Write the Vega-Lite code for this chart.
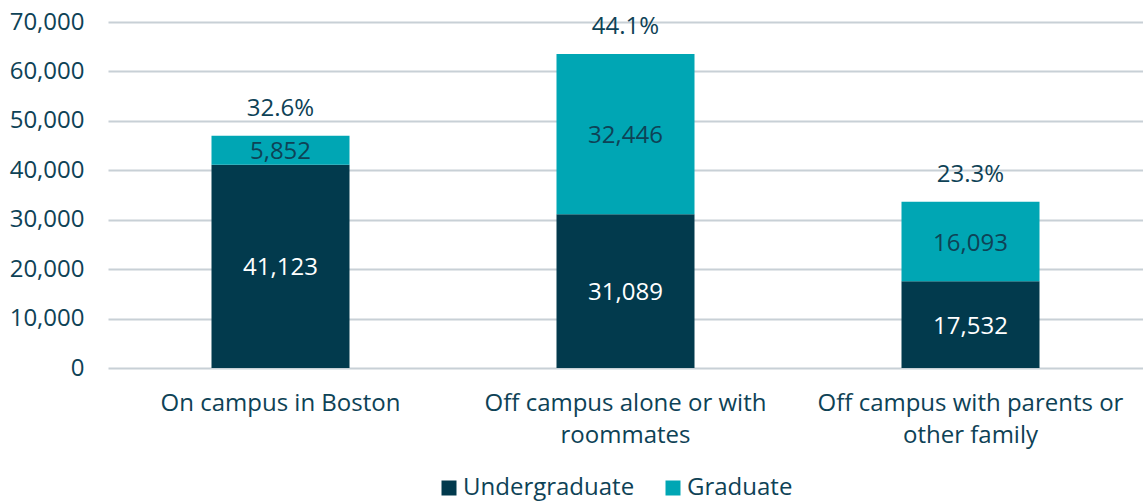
{
  "$schema": "https://vega.github.io/schema/vega-lite/v6.json",
  "width": 1035,
  "height": 346,
  "autosize": {"type": "none"},
  "padding": {"left": 108, "top": 22, "right": 0, "bottom": 134},
  "background": "white",
  "config": {
    "view": {"stroke": null},
    "font": "Open Sans",
    "text": {"font": "Open Sans"}
  },
  "datasets": {
    "bars": [
      {"location": "On campus in Boston", "level": "Undergraduate", "students": 41123},
      {"location": "On campus in Boston", "level": "Graduate", "students": 5852},
      {"location": "Off campus alone or with roommates", "level": "Undergraduate", "students": 31089},
      {"location": "Off campus alone or with roommates", "level": "Graduate", "students": 32446},
      {"location": "Off campus with parents or other family", "level": "Undergraduate", "students": 17532},
      {"location": "Off campus with parents or other family", "level": "Graduate", "students": 16093}
    ],
    "totals": [
      {"location": "On campus in Boston", "total": 46975, "share": "32.6%"},
      {"location": "Off campus alone or with roommates", "total": 63535, "share": "44.1%"},
      {"location": "Off campus with parents or other family", "total": 33625, "share": "23.3%"}
    ]
  },
  "encoding": {
    "x": {
      "field": "location",
      "type": "nominal",
      "sort": ["On campus in Boston", "Off campus alone or with roommates", "Off campus with parents or other family"],
      "scale": {"paddingInner": 0.6, "paddingOuter": 0.3},
      "axis": {
        "title": null,
        "labelAngle": 0,
        "labelFontSize": 24,
        "labelColor": "#0e4256",
        "labelPadding": 23,
        "labelLineHeight": 32,
        "labelBaseline": "top",
        "labelLimit": 0,
        "ticks": false,
        "domain": false,
        "labelExpr": "datum.label == 'Off campus alone or with roommates' ? ['Off campus alone or with', 'roommates'] : datum.label == 'Off campus with parents or other family' ? ['Off campus with parents or', 'other family'] : datum.label"
      }
    }
  },
  "layer": [
    {
      "data": {"name": "bars"},
      "mark": {"type": "bar"},
      "encoding": {
        "y": {
          "field": "students",
          "type": "quantitative",
          "stack": "zero",
          "scale": {"domain": [0, 70000]},
          "axis": {
            "title": null,
            "values": [0, 10000, 20000, 30000, 40000, 50000, 60000, 70000],
            "format": ",d",
            "labelFontSize": 24,
            "labelOverlap": false,
            "labelColor": "#0e4256",
            "labelPadding": 24,
            "ticks": false,
            "domain": false,
            "gridColor": "#c8d0d6",
            "gridWidth": 2
          }
        },
        "color": {
          "field": "level",
          "type": "nominal",
          "scale": {"domain": ["Undergraduate", "Graduate"], "range": ["#023a4d", "#00a6b4"]},
          "legend": {
            "title": null,
            "orient": "none",
            "direction": "horizontal",
            "legendX": 329,
            "legendY": 454,
            "symbolType": "square",
            "symbolSize": 225,
            "symbolStrokeWidth": 0,
            "labelFontSize": 24,
            "labelLimit": 0,
            "labelColor": "#0e4256",
            "labelOffset": 2,
            "columnPadding": 26
          }
        },
        "order": {"field": "level", "sort": "descending"}
      }
    },
    {
      "data": {"name": "bars"},
      "mark": {"type": "text", "fontSize": 24, "baseline": "middle", "dy": 2},
      "encoding": {
        "y": {"field": "students", "type": "quantitative", "stack": "zero", "bandPosition": 0.5},
        "text": {"field": "students", "type": "quantitative", "format": ",d"},
        "color": {
          "condition": {"test": "datum.level == 'Undergraduate'", "value": "#ffffff"},
          "value": "#0e4256"
        },
        "order": {"field": "level", "sort": "descending"}
      }
    },
    {
      "data": {"name": "totals"},
      "mark": {"type": "text", "fontSize": 24, "baseline": "middle", "dy": -27, "color": "#0e4256"},
      "encoding": {
        "y": {"field": "total", "type": "quantitative"},
        "text": {"field": "share", "type": "nominal"}
      }
    }
  ]
}
